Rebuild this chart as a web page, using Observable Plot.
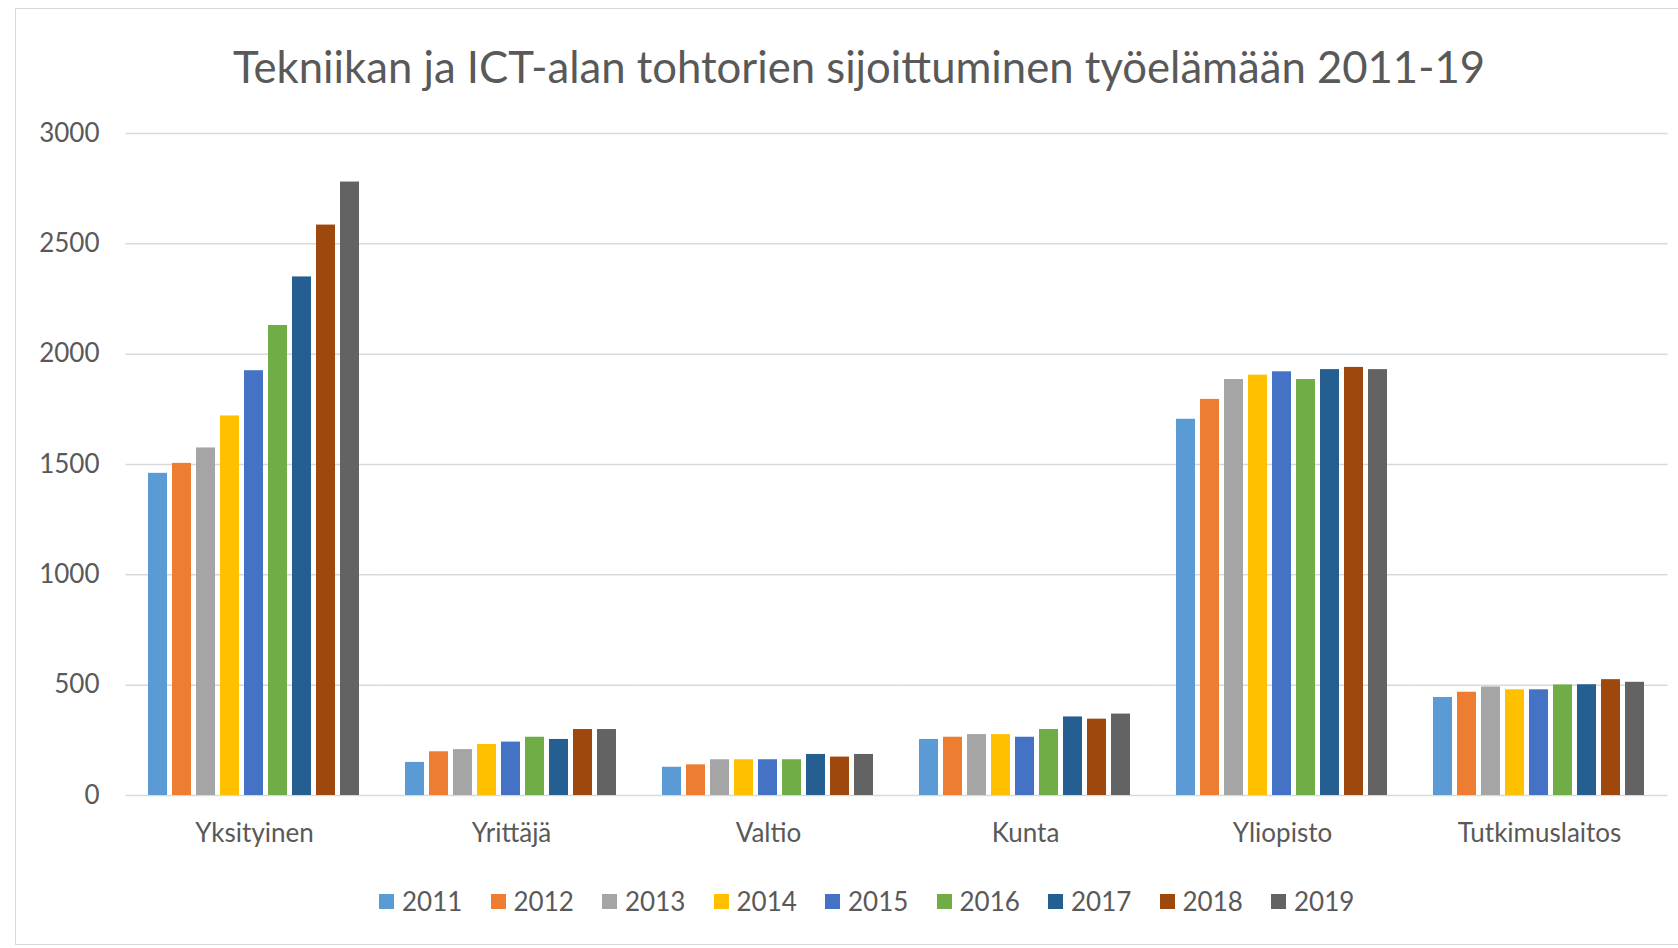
<!DOCTYPE html>
<html>
<head>
<meta charset="utf-8">
<script src="https://cdn.jsdelivr.net/npm/d3@7"></script>
<script src="https://cdn.jsdelivr.net/npm/@observablehq/plot@0.6"></script>
<style>
  html, body { margin: 0; padding: 0; background: #ffffff; }
  #root { position: relative; width: 1678px; height: 948px; overflow: hidden; font-family: Lato, "Liberation Sans", sans-serif; color: #595959; }
  #frame { position: absolute; left: 15px; top: 8px; width: 1700px; height: 937px; border: 1.5px solid #d9d9d9; box-sizing: border-box; }
  #title { position: absolute; left: 0; width: 1718px; top: 40px; text-align: center; white-space: nowrap; }
  #title span { display: inline-block; font-size: 44px; line-height: 52px; transform-origin: center center; }
  #plot { position: absolute; left: 0; top: 100px; }
  #legend { position: absolute; left: 379px; top: 886px; height: 30px; display: flex; align-items: center; }
  .item { display: flex; align-items: center; width: 111.5px; font-size: 26px; }
  .sw { width: 15px; height: 15px; margin-right: 8px; flex: none; }
</style>
</head>
<body>
<div id="root">
  <div id="frame"></div>
  <div id="title"><span id="titletext">Tekniikan ja ICT-alan tohtorien sijoittuminen työelämään 2011-19</span></div>
  <div id="plot"></div>
  <div id="legend"></div>
</div>
<script>
const categories = ["Yksityinen", "Yrittäjä", "Valtio", "Kunta", "Yliopisto", "Tutkimuslaitos"];
const years = ["2011", "2012", "2013", "2014", "2015", "2016", "2017", "2018", "2019"];
const colors = ["#5B9BD5", "#ED7D31", "#A5A5A5", "#FFC000", "#4472C4", "#70AD47", "#255E91", "#9E480E", "#636363"];
const yksityinen = [1460, 1505, 1575, 1720, 1925, 2130, 2350, 2585, 2780];
const yrittaja = [150, 198, 208, 231, 242, 264, 254, 299, 299];
const valtio = [128, 139, 162, 162, 162, 162, 186, 174, 186];
const kunta = [254, 264, 276, 276, 264, 299, 356, 346, 369];
const yliopisto = [1705, 1795, 1885, 1905, 1920, 1885, 1930, 1940, 1930];
const tutkimuslaitos = [444, 468, 492, 479, 479, 501, 502, 525, 513];
const yTicks = [0, 500, 1000, 1500, 2000, 2500, 3000];

const series = [yksityinen, yrittaja, valtio, kunta, yliopisto, tutkimuslaitos];
const data = [];
categories.forEach((c, i) => years.forEach((y, j) => data.push({cat: c, year: y, value: series[i][j]})));

const chart = Plot.plot({
  width: 1678,
  height: 755,
  marginLeft: 125,
  marginRight: 9,
  marginTop: 33,
  marginBottom: 60,
  style: {fontFamily: "Lato, 'Liberation Sans', sans-serif", fontSize: "26px", color: "#595959", background: "transparent"},
  fx: {domain: categories, paddingInner: 0.15, paddingOuter: 0.075, label: null, tickSize: 0, tickPadding: 28, axis: "bottom"},
  x: {domain: years, axis: null, paddingInner: 0.2, paddingOuter: 0.1},
  y: {domain: [0, 3000], ticks: yTicks, tickSize: 0, tickPadding: 46, tickFormat: d => String(d), label: null},
  color: {domain: years, range: colors},
  marks: [
    Plot.ruleY(yTicks, {stroke: "#d9d9d9", strokeWidth: 1.5, insetLeft: -19.5, insetRight: -19.5}),
    Plot.barY(data, {fx: "cat", x: "year", y: "value", fill: "year"})
  ]
});
document.getElementById("plot").appendChild(chart);

const legend = document.getElementById("legend");
years.forEach((y, i) => {
  const it = document.createElement("div");
  it.className = "item";
  const sw = document.createElement("div");
  sw.className = "sw";
  sw.style.background = colors[i];
  const t = document.createElement("span");
  t.textContent = y;
  it.appendChild(sw);
  it.appendChild(t);
  legend.appendChild(it);
});

const tt = document.getElementById("titletext");
const w = tt.getBoundingClientRect().width;
tt.style.transform = "scaleX(" + (1252 / w) + ")";
</script>
</body>
</html>
